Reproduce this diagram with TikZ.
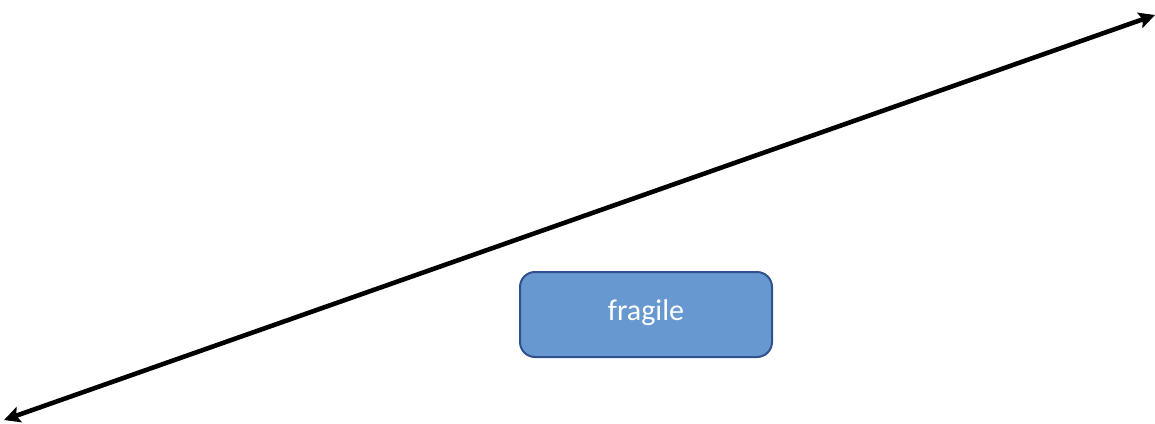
\documentclass[tikz,border=0pt]{standalone}
\usepackage{fontspec}
\setmainfont{Carlito}
\usetikzlibrary{arrows.meta}
\definecolor{boxfill}{HTML}{6798D0}
\definecolor{boxline}{HTML}{2F528F}
\begin{document}
\begin{tikzpicture}[x=1pt, y=-1pt, >={Stealth[length=16pt,width=16pt,inset=3pt]},
	tagbox/.style={draw=boxline, line width=2pt, fill=boxfill, rounded corners=15pt,
		minimum width=252pt, minimum height=85pt, text=white, font=\fontsize{30}{36}\selectfont}]
	% 1. 画布范围
	\useasboundingbox (0,0) rectangle (1155,423);
	
	% 2. 双向长箭头
	\coordinate (lo) at (4,420);
	\coordinate (hi) at (1155,15);
	\draw[<->, line width=4.6pt] (lo) -- (hi);
	
	% 3. 标签框
	\node[tagbox] (fragile) at (646,314.5) {\raisebox{9pt}{fragile}};
\end{tikzpicture}
\end{document}
